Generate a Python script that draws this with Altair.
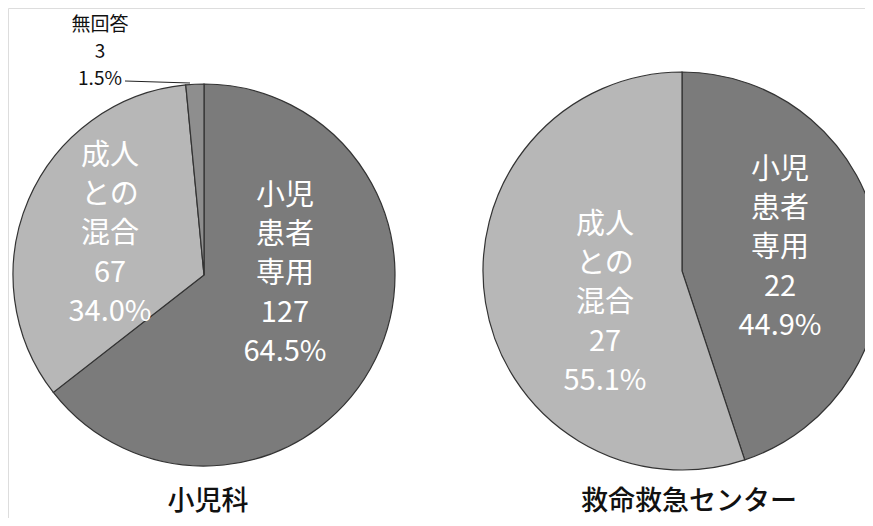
import altair as alt
import pandas as pd

# ---- data ----
charts = ["小児科", "小児科", "小児科", "救命救急センター", "救命救急センター"]
categories = ["小児患者専用", "成人との混合", "無回答", "小児患者専用", "成人との混合"]
label_names = ["小児\n患者\n専用", "成人\nとの\n混合", "無回答", "小児\n患者\n専用", "成人\nとの\n混合"]
values = [127, 67, 3, 22, 27]
order = [1, 2, 3, 1, 2]
titles = ["小児科", "救命救急センター"]

df = pd.DataFrame({"chart": charts, "category": categories, "name": label_names,
                   "value": values, "ord": order})
tot = df.groupby("chart")["value"].transform("sum")
df["pct"] = df["value"] / tot
df["label"] = df["name"] + "\n" + df["value"].astype(str) + "\n" + (df["pct"] * 100).map(lambda v: f"{v:.1f}%")
df["key"] = [f"{i}" for i in range(len(df))]

cat_domain = ["小児患者専用", "成人との混合", "無回答"]
cat_colors = ["#7b7b7b", "#b7b7b7", "#8e8e8e"]

base = alt.Chart(df)


def pie(chart_name, cx, cy, r):
    return base.transform_filter(alt.datum.chart == chart_name).mark_arc(
        radius=r, stroke="#333333", strokeWidth=1.2
    ).encode(
        x=alt.value(cx), y=alt.value(cy),
        theta=alt.Theta("pct:Q", stack=True, scale=alt.Scale(domain=[0, 1])),
        color=alt.Color("category:N", scale=alt.Scale(domain=cat_domain, range=cat_colors), legend=None),
        order=alt.Order("ord:Q"),
    )


def label(key, x, y, size=29, lh=39, color="white"):
    return base.transform_filter(alt.datum.key == key).mark_text(
        lineBreak="\n", font="Noto Sans CJK JP", fontSize=size, lineHeight=lh,
        color=color, align="center", baseline="middle"
    ).encode(x=alt.value(x), y=alt.value(y), text="label:N")


tdf = pd.DataFrame({"title": titles, "i": [0, 1]})


def title(i, x, y):
    return alt.Chart(tdf).transform_filter(alt.datum.i == i).mark_text(
        font="Noto Sans CJK JP", fontSize=27, fontWeight=500, color="#111111", align="center", baseline="middle"
    ).encode(x=alt.value(x), y=alt.value(y), text="title:N")


leader = base.transform_filter(alt.datum.key == "2").mark_rule(color="#222222", strokeWidth=1).encode(
    x=alt.value(117), x2=alt.value(182), y=alt.value(73), y2=alt.value(75)
)

chart = alt.layer(
    pie("小児科", 196, 267, 191),
    pie("救命救急センター", 674, 263, 199),
    leader,
    label("0", 277, 188),
    label("1", 102, 148),
    label("2", 92, 17, size=19, lh=27, color="#111111"),
    label("3", 772, 162),
    label("4", 597, 217),
    title(0, 200, 494),
    title(1, 681, 494),
).properties(
    width=857, height=510, padding=0,
    autosize=alt.AutoSizeParams(type="none"),
).configure_view(strokeWidth=0, stroke="transparent").configure(background="white")

chart.save("out.html", embed_options={"renderer": "svg", "actions": False})
